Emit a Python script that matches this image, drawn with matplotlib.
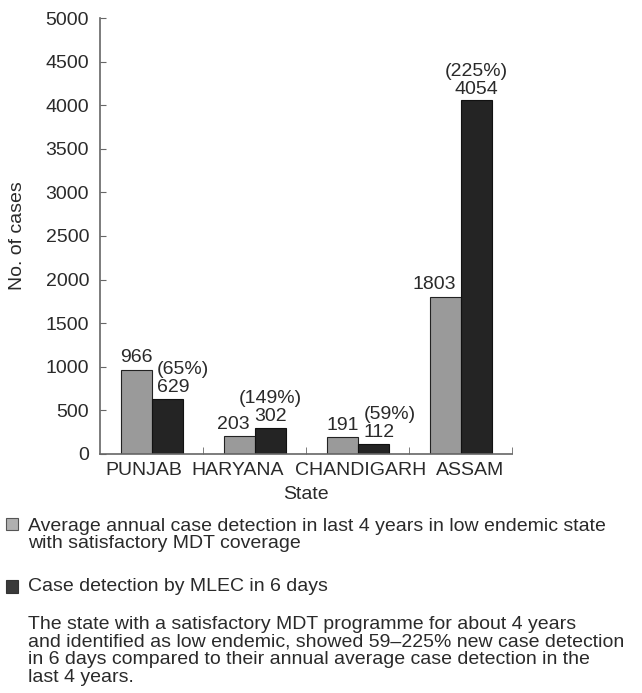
import matplotlib
matplotlib.use("Agg")
import matplotlib.pyplot as plt
from matplotlib.patches import Rectangle
from matplotlib.transforms import ScaledTranslation
import numpy as np

states = ["PUNJAB", "HARYANA", "CHANDIGARH", "ASSAM"]
avg_annual = [966, 203, 191, 1803]
mlec_6days = [629, 302, 112, 4054]
pct_labels = ["(65%)", "(149%)", "(59%)", "(225%)"]

legend_labels = [
    "Average annual case detection in last 4 years in low endemic state\nwith satisfactory MDT coverage",
    "Case detection by MLEC in 6 days",
]
note = ("The state with a satisfactory MDT programme for about 4 years\n"
        "and identified as low endemic, showed 59\u2013225% new case detection\n"
        "in 6 days compared to their annual average case detection in the\n"
        "last 4 years.")

plt.rcParams["font.family"] = ["Liberation Sans", "DejaVu Sans"]
TXT = "#2a2a2a"
GRAY = "#9a9a9a"
DARK = "#242424"
FS = 14

fig = plt.figure(figsize=(6.42, 6.93), dpi=100)
ax = fig.add_axes([0.156, 0.345, 0.642, 0.629])

x = np.arange(len(states))
w = 0.3
ax.bar(x - w / 2, avg_annual, w, color=GRAY, edgecolor="#222222", linewidth=0.8)
ax.bar(x + w / 2, mlec_6days, w, color=DARK, edgecolor="#111111", linewidth=0.8)

# gray-bar labels (some sit a bit to the left, as in the original)
gray_dx = [0, -4, 0, -8]
for i in range(len(states)):
    ax.annotate(str(avg_annual[i]), (x[i] - w / 2, avg_annual[i]), xytext=(gray_dx[i], 2.5),
                textcoords="offset points", ha="center", va="bottom", fontsize=FS, color=TXT)

# dark-bar labels: value with the percentage on the line above;
# shifted right where they'd collide with the gray label
shift = [True, False, True, False]
line_h = 13  # points between the two lines
for i in range(len(states)):
    if shift[i]:
        xy, dx, ha = (x[i], mlec_6days[i]), 4, "left"
    else:
        xy, dx, ha = (x[i] + w / 2, mlec_6days[i]), 0, "center"
    ax.annotate(str(mlec_6days[i]), xy, xytext=(dx, 2), textcoords="offset points",
                ha=ha, va="bottom", fontsize=FS, color=TXT)
    ax.annotate(pct_labels[i], xy, xytext=(dx, 2 + line_h), textcoords="offset points",
                ha=ha, va="bottom", fontsize=FS, color=TXT)

ax.set_xlim(-0.5, len(states) - 0.5)
ax.set_ylim(0, 5000)
ax.set_yticks(np.arange(0, 5001, 500))
ax.set_xticks(x)
ax.set_xticklabels(states)
ax.set_xticks(np.arange(0.5, len(states), 1), minor=True)
ax.tick_params(axis="x", which="major", length=0, pad=6, labelsize=FS, labelcolor=TXT)
ax.tick_params(axis="x", which="minor", direction="in", length=5, color="#666666")
ax.tick_params(axis="y", direction="in", length=4, color="#666666", labelsize=FS,
               labelcolor=TXT, pad=8)

# category names are spread slightly unevenly in the original
label_dx = [-8, -17, 3, 9]
for lab, dx in zip(ax.get_xticklabels(), label_dx):
    lab.set_transform(lab.get_transform() + ScaledTranslation(dx / 100, 0, fig.dpi_scale_trans))

for s in ["top", "right"]:
    ax.spines[s].set_visible(False)
for s in ["left", "bottom"]:
    ax.spines[s].set_color("#666666")
    ax.spines[s].set_linewidth(1.2)

ax.set_xlabel("State", fontsize=FS, color=TXT, labelpad=5)
ax.set_ylabel("No. of cases", fontsize=FS, color=TXT, labelpad=14)

# legend block beneath the chart
fig.patches.append(Rectangle((6 / 642, 1 - 530 / 693), 12 / 642, 12 / 693,
                             transform=fig.transFigure, facecolor="#b0b0b0",
                             edgecolor="#555555", linewidth=0.8))
fig.text(28 / 642, 1 - 518 / 693, legend_labels[0], fontsize=FS, color=TXT,
         va="top", ha="left", linespacing=1.0)
fig.patches.append(Rectangle((6 / 642, 1 - 593 / 693), 12 / 642, 13 / 693,
                             transform=fig.transFigure, facecolor="#3a3a3a",
                             edgecolor="#333333", linewidth=0.8))
fig.text(28 / 642, 1 - 578 / 693, legend_labels[1], fontsize=FS, color=TXT,
         va="top", ha="left")
fig.text(28 / 642, 1 - 616 / 693, note, fontsize=FS, color=TXT,
         va="top", ha="left", linespacing=1.04)

fig.savefig("out.png", dpi=100)
